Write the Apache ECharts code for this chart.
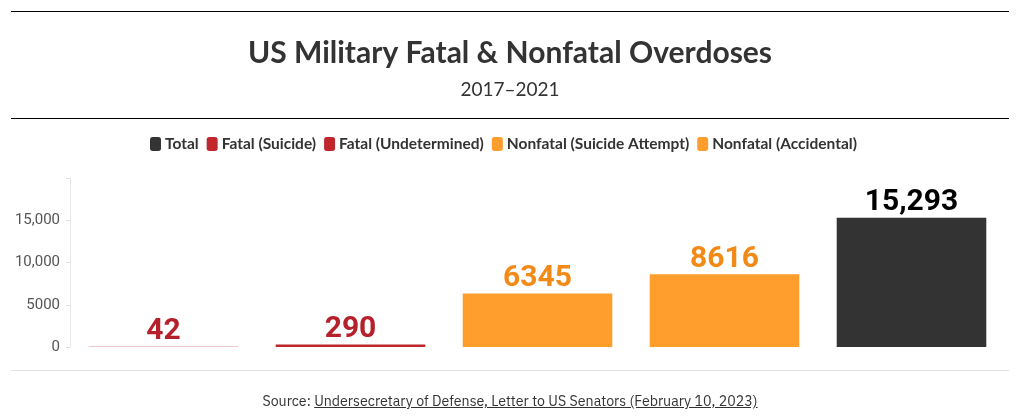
<!DOCTYPE html>
<html><head><meta charset="utf-8">
<script src="https://cdn.jsdelivr.net/npm/echarts@6/dist/echarts.min.js"></script>
<style>
html,body{margin:0;padding:0;background:#fff;}
#wrap{position:relative;width:1020px;height:420px;}
#chart{width:1020px;height:420px;}
#src{position:absolute;left:0;width:1020px;top:391px;text-align:center;font-family:'IBM Plex Sans','Open Sans',sans-serif;font-size:14.2px;color:#333;}
#src span{text-decoration:underline;}
</style></head>
<body><div id="wrap"><div id="chart"></div>
<div id="src">Source: <span>Undersecretary of Defense, Letter to US Senators (February 10, 2023)</span></div></div>
<script>
var categories = ['Fatal (Suicide)', 'Fatal (Undetermined)', 'Nonfatal (Suicide Attempt)', 'Nonfatal (Accidental)', 'Total'];
var values = [42, 290, 6345, 8616, 15293];
var valueLabels = ['42', '290', '6345', '8616', '15,293'];
var legendOrder = ['Total', 'Fatal (Suicide)', 'Fatal (Undetermined)', 'Nonfatal (Suicide Attempt)', 'Nonfatal (Accidental)'];
var barColors = ['#c0272d', '#c0272d', '#ff9e2d', '#ff9e2d', '#333333'];
var labelColors = ['#b5202a', '#b5202a', '#f28a17', '#f28a17', '#000000'];
var yTicks = [0, 5000, 10000, 15000];
var yTickLabels = ['0', '5000', '10,000', '15,000'];

var series = categories.map(function (name, i) {
  var d = categories.map(function (c, j) { return j === i ? values[i] : null; });
  return {
    name: name, type: 'bar', stack: 'all', data: d, barWidth: '80%',
    itemStyle: { color: barColors[i] },
    label: {
      show: true, position: 'top', distance: 0,
      formatter: function () { return valueLabels[i]; },
      color: labelColors[i], fontSize: 30, fontWeight: 'bold', fontFamily: 'Roboto'
    }
  };
});

var chart = echarts.init(document.getElementById('chart'));
chart.setOption({
  animation: false,
  title: {
    text: 'US Military Fatal & Nonfatal Overdoses', subtext: '2017–2021', left: 'center', top: 33,
    textStyle: { fontFamily: 'Lato', fontWeight: 'bold', fontSize: 30, color: '#333' },
    subtextStyle: { fontFamily: 'Lato', fontSize: 19, color: '#333' }, itemGap: 12
  },
  legend: {
    data: legendOrder, top: 131, left: 145, icon: 'roundRect', itemWidth: 11, itemHeight: 14, itemGap: 8,
    textStyle: { fontFamily: 'Lato', fontWeight: 'bold', fontSize: 15.5, color: '#333', padding: [0, 0, 0, -1] },
    selectedMode: false
  },
  grid: { left: 70, right: 15, top: 178, bottom: 73 },
  xAxis: { type: 'category', data: categories, show: false },
  yAxis: {
    type: 'value', min: 0, max: 20000, interval: 5000,
    axisLine: { show: true, lineStyle: { color: '#e8e8e8' } },
    axisTick: { show: true, length: 4, lineStyle: { color: '#e0e0e0' } },
    splitLine: { show: false },
    axisLabel: {
      color: '#555', fontSize: 15, fontFamily: 'Roboto', margin: 10,
      formatter: function (v) { var k = yTicks.indexOf(v); return k >= 0 ? yTickLabels[k] : ''; }
    }
  },
  graphic: [
    { type: 'line', shape: { x1: 11, y1: 11.5, x2: 1009, y2: 11.5 }, style: { stroke: '#000', lineWidth: 1 } },
    { type: 'line', shape: { x1: 11, y1: 118.5, x2: 1009, y2: 118.5 }, style: { stroke: '#000', lineWidth: 1 } },
    { type: 'line', shape: { x1: 11, y1: 370.5, x2: 1009, y2: 370.5 }, style: { stroke: '#e2e2e2', lineWidth: 1 } }
  ],
  series: series
});
</script></body></html>
